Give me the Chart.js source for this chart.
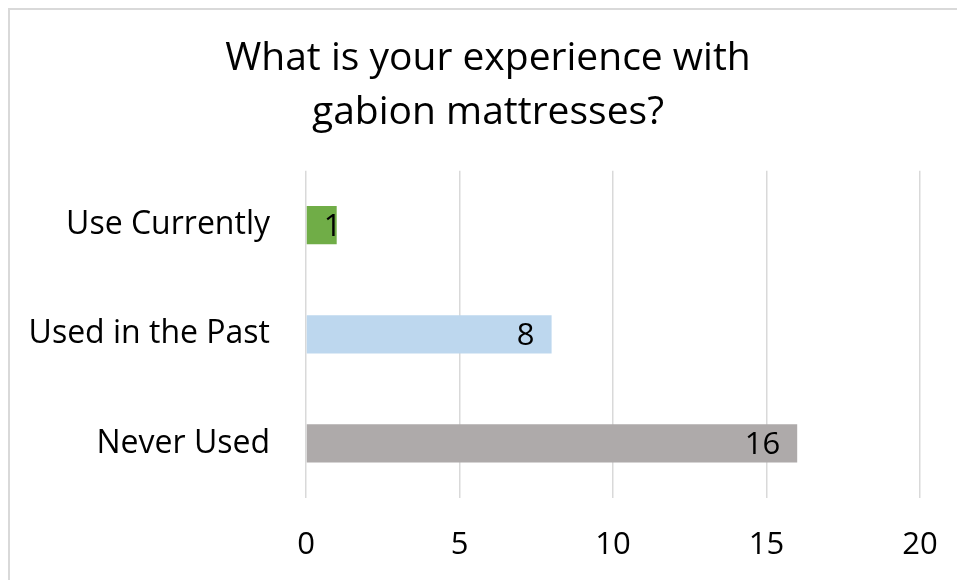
<!DOCTYPE html>
<html>
<head>
<meta charset="utf-8">
<script src="https://cdn.jsdelivr.net/npm/chart.js@4"></script>
<style>
    html, body { margin: 0; padding: 0; background: #ffffff; }
    #wrap { position: relative; width: 957px; height: 580px; overflow: hidden; }
    #frame {
        position: absolute; left: 8px; top: 8px; width: 1000px; height: 1000px;
        border-left: 2px solid #d9d9d9; border-top: 2px solid #d9d9d9;
        pointer-events: none;
    }
    canvas { position: absolute; left: 0; top: 0; }
</style>
</head>
<body>
<div id="wrap">
    <canvas id="chart" width="957" height="580"></canvas>
    <div id="frame"></div>
</div>
<script>
// chart data
const titleLines = ['What is your experience with', 'gabion mattresses?'];
const categories = ['Use Currently', 'Used in the Past', 'Never Used'];
const counts = [1, 8, 16];
const barColors = ['#70ad47', '#bdd7ee', '#aeaaaa'];
const xTicks = [0, 5, 10, 15, 20];

const FONT = "'Open Sans', 'Noto Sans', sans-serif";

// value labels drawn inside the end of each bar (Excel-like "inside end")
const valueLabels = {
    id: 'valueLabels',
    afterDatasetsDraw(chart) {
        const ctx = chart.ctx;
        const meta = chart.getDatasetMeta(0);
        ctx.save();
        ctx.font = `31px ${FONT}`;
        ctx.fillStyle = '#000000';
        ctx.textAlign = 'left';
        ctx.textBaseline = 'middle';
        meta.data.forEach((bar, i) => {
            const txt = String(counts[i]);
            const w = ctx.measureText(txt).width;
            let left = bar.x - 17 - w;
            if (left < bar.base + 17) left = bar.base + 17;
            ctx.fillText(txt, left, bar.y + 2);
        });
        ctx.restore();
    }
};

new Chart(document.getElementById('chart'), {
    type: 'bar',
    data: {
        labels: categories,
        datasets: [{
            data: counts,
            backgroundColor: barColors,
            borderWidth: 0,
            categoryPercentage: 0.7,
            barPercentage: 0.5
        }]
    },
    options: {
        indexAxis: 'y',
        responsive: false,
        animation: false,
        layout: { padding: { left: 28, right: 9, top: 8, bottom: 0 } },
        plugins: {
            legend: { display: false },
            tooltip: { enabled: false },
            title: {
                display: true,
                text: titleLines,
                color: '#000000',
                font: { size: 39, family: FONT, weight: 'normal', lineHeight: 1.38 },
                padding: { top: 24, bottom: 31 }
            }
        },
        scales: {
            x: {
                min: 0,
                max: 20,
                afterBuildTicks: (scale) => { scale.ticks = xTicks.map(v => ({ value: v })); },
                afterFit: (scale) => {
                    scale.height = 82;
                    scale.paddingRight = 37;
                },
                grid: { color: '#d9d9d9', lineWidth: 1.5, drawTicks: false },
                border: { display: false },
                ticks: {
                    color: '#000000',
                    padding: 29,
                    font: { size: 31, family: FONT }
                }
            },
            y: {
                afterFit: (scale) => { scale.width = 278; },
                grid: { display: false, drawTicks: false },
                border: { display: false },
                ticks: {
                    color: '#000000',
                    padding: 36,
                    font: { size: 32, family: FONT }
                }
            }
        }
    },
    plugins: [valueLabels]
});
</script>
</body>
</html>
